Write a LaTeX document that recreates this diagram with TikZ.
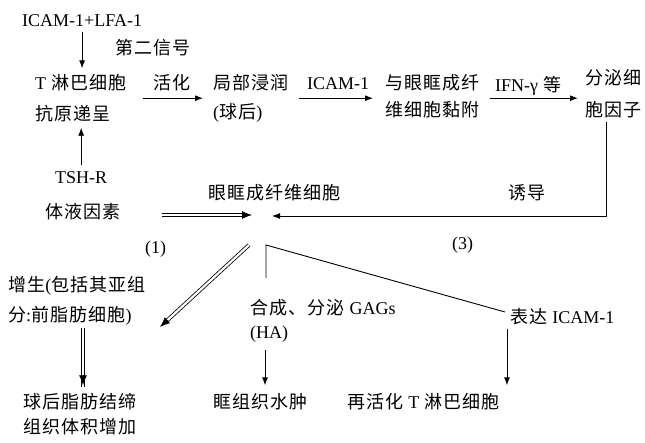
\documentclass[tikz,border=0pt]{standalone}
\usepackage{fontspec}
\setmainfont{Liberation Serif}
\newfontfamily\zhfam[LetterSpace=6]{Noto Sans CJK SC}
\usetikzlibrary{arrows.meta,calc}
\newcommand\zhf{\zhfam\fontsize{18}{20}\selectfont}
\newcommand\lat[1]{{\rmfamily\fontsize{18}{20}\selectfont #1}}
\begin{document}
\begin{tikzpicture}[x=1pt,y=-1pt,
 lbl/.style={inner sep=0pt, anchor=west, text height=13pt, text depth=0pt, font=\zhf},
 arr/.style={-{Latex[length=8pt,width=6pt]}, line width=0.9pt},
 ln/.style={line width=0.9pt},
 dbl/.style={double, double distance=2.2pt, line width=0.8pt},
 dtip/.style={-{Latex[length=10pt,width=8pt]}, line width=0.8pt},
]
\fill[white] (0,0) rectangle (645,442);
\useasboundingbox (0,0) rectangle (645,442);

% nodes
\node[lbl] (icam) at (22,20) {\lat{ICAM-1+LFA-1}};
\node[lbl] (sig) at (115,48) {第二信号};
\node[lbl] (t1) at (35,83) {\lat{T} 淋巴细胞};
\node[lbl] (t2) at (35,114) {抗原递呈};
\node[lbl] (tsh) at (55,177) {\lat{TSH-R}};
\node[lbl] (humor) at (45,212) {体液因素};
\node[lbl] (act) at (153,83) {活化};
\node[lbl] (loc1) at (213,83) {局部浸润};
\node[lbl] (loc2) at (213,112) {\lat{(}球后\lat{)}};
\node[lbl] (icl) at (307,83) {\lat{ICAM-1}};
\node[lbl] (adh1) at (385,83) {与眼眶成纤};
\node[lbl] (adh2) at (385,110) {维细胞黏附};
\node[lbl] (ifn) at (495,85) {\lat{IFN-γ} 等};
\node[lbl] (sec1) at (585,78) {分泌细};
\node[lbl] (sec2) at (585,110) {胞因子};
\node[lbl] (fib) at (208,193) {眼眶成纤维细胞};
\node[lbl] (ind) at (508,193) {诱导};
\node[lbl] (p1) at (145,247) {\lat{(1)}};
\node[lbl] (p3) at (452,243) {\lat{(3)}};
\node[lbl] (pro1) at (8,285) {增生\lat{(}包括其亚组};
\node[lbl] (pro2) at (8,315) {分\lat{:}前脂肪细胞\lat{)}};
\node[lbl] (ret1) at (23,402) {球后脂肪结缔};
\node[lbl] (ret2) at (23,427) {组织体积增加};
\node[lbl] (gag1) at (250,308) {合成、分泌 \lat{GAGs}};
\node[lbl] (gag2) at (250,332) {\lat{(HA)}};
\node[lbl] (ede) at (213,402) {眶组织水肿};
\node[lbl] (expr) at (510,317) {表达 \lat{ICAM-1}};
\node[lbl] (react) at (347,402) {再活化 \lat{T} 淋巴细胞};

% hub coordinates
\coordinate (hubL) at (252,215);
\coordinate (hubR) at (272,216);
\coordinate (hubD) at (249,245);
\coordinate (tipD) at (160,327);
\coordinate (br1) at (266,278);
\coordinate (br2) at (266,245);

% connectors
\draw[arr, shorten <=5pt, shorten >=8pt] (icam.south) -- (icam.south |- t1.north);
\draw[arr, shorten <=5pt, shorten >=7pt] (tsh.north) -- (tsh.north |- t2.south);
\draw[arr] ([shift={(16pt,-8.5pt)}]t1.south east) -- ([shift={(-10pt,-8.5pt)}]loc1.south west);
\draw[arr] ([shift={(10pt,-8.5pt)}]loc1.south east) -- ([shift={(-12pt,-8.5pt)}]adh1.south west);
\draw[arr] ([shift={(10pt,-8.5pt)}]adh1.south east) -- ([shift={(-7pt,-8.5pt)}]sec1.south west |- adh1.south);
\draw[arr] ([shift={(21pt,-5pt)}]sec2.south west) |- (hubR);

\draw[dbl, shorten >=8pt] ([shift={(41pt,-3pt)}]humor.east) -- (hubL);
\draw[dtip] ($(hubL)!10pt!([shift={(41pt,-3pt)}]humor.east)$) -- (hubL);

\draw[dbl, shorten >=8pt] (hubD) -- (tipD);
\draw[dtip] ($(tipD)!10pt!(hubD)$) -- (tipD);

\draw[dbl, shorten <=6pt, shorten >=8pt] ([xshift=75pt]pro2.south west) -- ([xshift=75pt]pro2.south west |- ret1.north);
\draw[dtip, shorten >=10pt] ($([xshift=75pt]pro2.south west |- ret1.north)+(0,-20)$) -- ([xshift=75pt]pro2.south west |- ret1.north);

\draw[ln] (br1) -- (br2) -- ([shift={(-5pt,5pt)}]expr.west);
\draw[arr, shorten <=11pt, shorten >=10pt] ([xshift=15pt]gag2.south west) -- ([xshift=15pt]gag2.south west |- ede.north);
\draw[arr, shorten <=5pt, shorten >=10pt] ([xshift=-3pt]expr.south west) -- ([xshift=-3pt]expr.south west |- react.north);
\end{tikzpicture}
\end{document}
